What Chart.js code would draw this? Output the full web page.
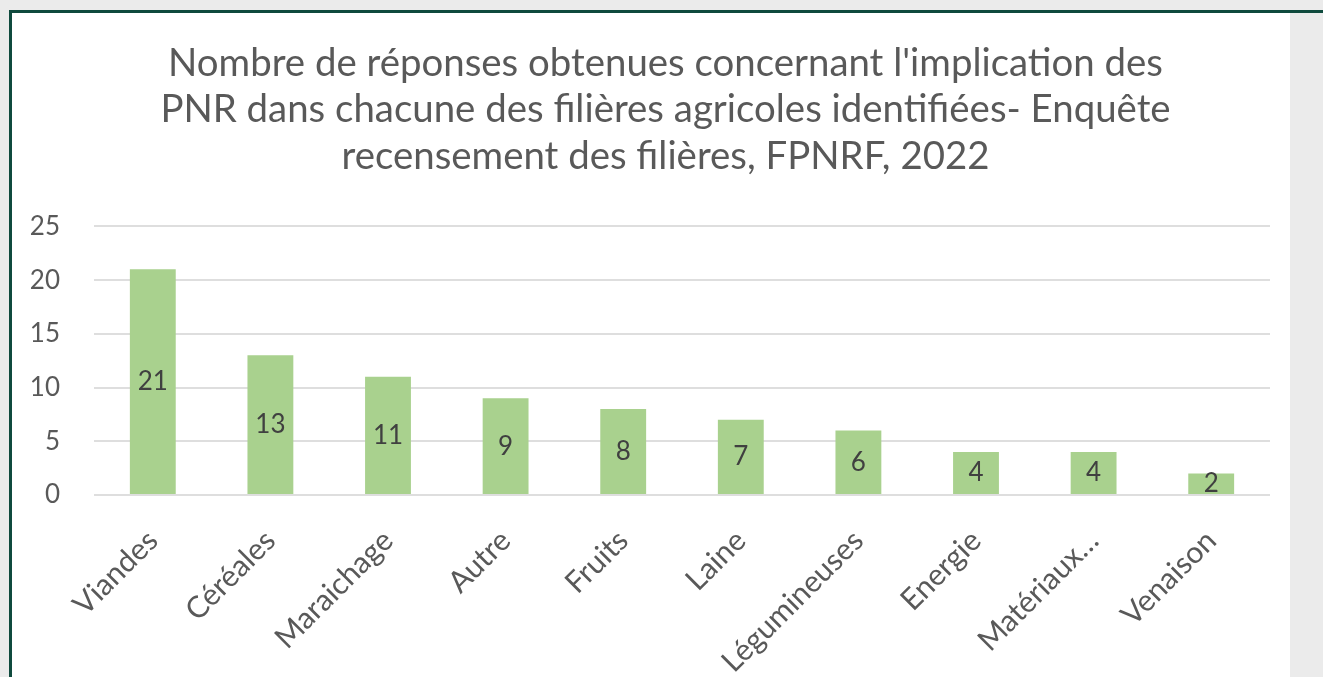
<!DOCTYPE html>
<html>
<head>
<meta charset="utf-8">
<script src="https://cdn.jsdelivr.net/npm/chart.js@4"></script>
<style>
  html, body { margin:0; padding:0; }
  body { width:1323px; height:677px; overflow:hidden; background:#ebebeb; position:relative; }
  #frame { position:absolute; left:9px; top:10px; width:1314px; height:670px; border-top:3px solid #0f4a3d; border-left:3px solid #0f4a3d; background:#ffffff; }
  #strip { position:absolute; left:1290px; top:13px; width:33px; height:664px; background:#ebebeb; }
  #wrap { position:absolute; left:12px; top:13px; width:1278px; height:664px; }
</style>
</head>
<body>
<div id="frame"></div>
<div id="strip"></div>
<div id="wrap"><canvas id="c"></canvas></div>
<script>
const titleLines = [
  "Nombre de réponses obtenues concernant l'implication des",
  "PNR dans chacune des filières agricoles identifiées- Enquête",
  "recensement des filières, FPNRF, 2022"
];
const categories = ["Viandes", "Céréales", "Maraichage", "Autre", "Fruits", "Laine", "Légumineuses", "Energie", "Matériaux…", "Venaison"];
const values = [21, 13, 11, 9, 8, 7, 6, 4, 4, 2];
const yTicks = [0, 5, 10, 15, 20, 25];

const FONT = "Lato, 'Open Sans', sans-serif";

const barLabels = {
  id: 'barLabels',
  afterDatasetsDraw(chart) {
    const ctx = chart.ctx;
    const meta = chart.getDatasetMeta(0);
    ctx.save();
    ctx.font = "26px " + FONT;
    ctx.fillStyle = '#404040';
    ctx.textAlign = 'center';
    ctx.textBaseline = 'middle';
    meta.data.forEach((bar, i) => {
      const p = bar.getProps(['x', 'y', 'base'], true);
      ctx.fillText(String(values[i]), p.x, (p.y + p.base) / 2);
    });
    ctx.restore();
  }
};

// shift the title block's horizontal span so it is centred like the original
const titleShift = {
  id: 'titleShift',
  afterLayout(chart) {
    if (chart.titleBlock) chart.titleBlock.left = 49;
  }
};

new Chart(document.getElementById('c'), {
  type: 'bar',
  data: {
    labels: categories,
    datasets: [{
      data: values,
      backgroundColor: '#a9d18e',
      borderWidth: 0,
      categoryPercentage: 1,
      barPercentage: 0.39
    }]
  },
  options: {
    responsive: true,
    maintainAspectRatio: false,
    animation: false,
    layout: { padding: { top: 0, left: 0, right: 20, bottom: 0 } },
    plugins: {
      legend: { display: false },
      tooltip: { enabled: false },
      title: {
        display: true,
        text: titleLines,
        color: '#595959',
        font: { family: FONT, size: 38.4, weight: 'normal', lineHeight: 1.21 },
        padding: { top: 27, bottom: 47 }
      }
    },
    scales: {
      x: {
        grid: { display: false },
        border: { display: false },
        ticks: {
          color: '#595959',
          font: { family: FONT, size: 30 },
          maxRotation: 45,
          minRotation: 45,
          autoSkip: false,
          padding: 20
        },
        afterFit(s) { s.height = 182; }
      },
      y: {
        min: 0,
        max: 25,
        afterBuildTicks(s) { s.ticks = yTicks.map(v => ({ value: v })); },
        grid: { color: '#dedede', lineWidth: 2, drawTicks: false },
        border: { display: false },
        ticks: {
          color: '#595959',
          font: { family: FONT, size: 26 },
          padding: 34
        },
        afterFit(s) { s.width = 82; }
      }
    }
  },
  plugins: [barLabels, titleShift]
});
</script>
</body>
</html>
